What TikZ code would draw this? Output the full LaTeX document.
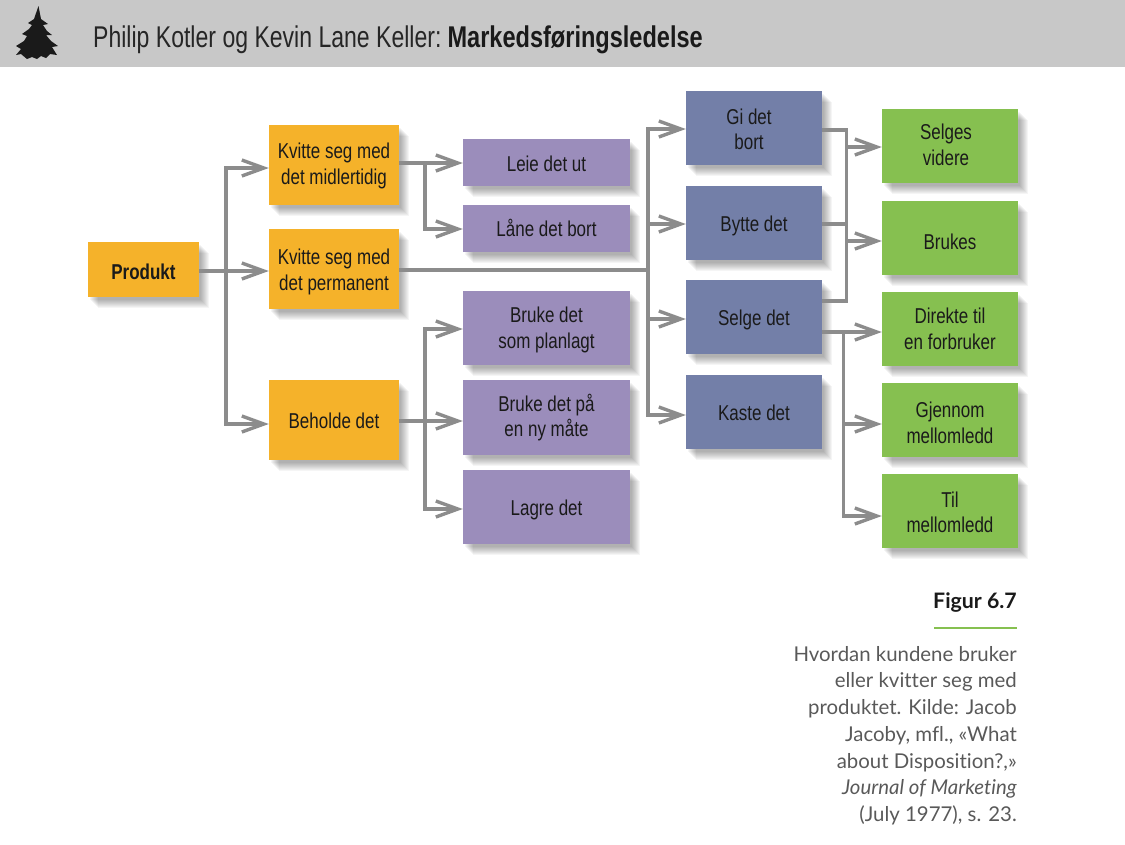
\documentclass[tikz,border=0pt]{standalone}
\usepackage{fontspec}
\setmainfont{Liberation Sans}[FakeStretch=0.79]
\newfontfamily\titlefont{Liberation Sans}[FakeStretch=0.768, BoldFeatures={FakeStretch=0.785}]
\newfontfamily\capfont{Lato}[Ligatures=NoCommon]
\usetikzlibrary{arrows.meta,shadows}
\definecolor{barcol}{HTML}{C8C8C8}
\definecolor{linkcol}{HTML}{8C8C8C}
\definecolor{orangecol}{HTML}{F5B22A}
\definecolor{purplecol}{HTML}{9B8DBB}
\definecolor{bluecol}{HTML}{737FA8}
\definecolor{greencol}{HTML}{86C050}
\definecolor{inkcol}{HTML}{1A1A1A}
\newcommand{\lowline}[2]{\raisebox{-#1pt}[\height][\depth]{#2}}
\begin{document}
\begin{tikzpicture}[x=1pt, y=-1pt,
    drop/.store in=\boxdrop, drop=18,
    softshadow/.style ={general shadow={shadow xshift=#1pt, shadow yshift=-#1pt-1pt, fill=black, opacity=.04}},
    box/.style ={softshadow=10, softshadow=9, softshadow=8, softshadow=7, softshadow=6, softshadow=5, softshadow=4, softshadow=3, softshadow=2,
      inner sep=0pt, align=center, text=inkcol, font=\fontsize{21.5}{25.5}\selectfont,
      execute at begin node={\rule{0pt}{\boxdrop pt}}},
    orangebox/.style ={box, fill=orangecol, minimum width=130pt, minimum height=80pt},
    purplebox/.style ={box, fill=purplecol, minimum width=167pt, minimum height=74.5pt},
    bluebox/.style ={box, fill=bluecol, minimum width=136pt, minimum height=74.5pt},
    greenbox/.style ={box, fill=greencol, minimum width=136pt, minimum height=74.5pt},
    link/.style ={line width=3.2pt, draw=linkcol},
    arrow/.style ={link, -{Straight Barb[length=22pt, width=16pt, line width=3.4pt]}}]
   \useasboundingbox (0,0) rectangle (1125,844);
   % header
   \fill[barcol] (0,0) rectangle (1125,66.5);
   \fill[inkcol] (38.5,6) -- (41,19) -- (48,24) -- (43,25) -- (47,31) -- (52,35) -- (46,35)
      -- (51,41) -- (58,46) -- (52,47) -- (57,55) -- (50,54) -- (46,58) -- (41,56) -- (37,59)
      -- (32,57) -- (27,59) -- (21,54) -- (16,55) -- (21,49) -- (16,46) -- (24,41) -- (27,36)
      -- (22,34) -- (29,29) -- (32,25) -- (28,23) -- (34,19) -- cycle;
   \node[anchor=west, inner sep=0pt, text=black!85, font=\titlefont\fontsize{30}{32}\selectfont] (title) at (93,40)
      {Philip Kotler og Kevin Lane Keller:\hspace{6pt}\textcolor{inkcol}{\textbf{Markedsføringsledelse}}};
   % boxes
   \node[orangebox, drop=20, minimum width=111pt, minimum height=55pt, font=\fontsize{21.5}{25.5}\selectfont\bfseries] (produkt) at (143.5,269.5) {Produkt};
   \node[orangebox] (kvmid)  at (334,165)   {\lowline{1}{Kvitte seg med}\\\lowline{1}{det midlertidig}};
   \node[orangebox] (kvperm) at (334,268.5) {\lowline{3.5}{Kvitte seg med}\\\lowline{3.5}{det permanent}};
   \node[orangebox] (beholde) at (334,420)  {Beholde det};
   \node[purplebox, minimum height=47pt] (leie) at (546.5,162.5) {Leie det ut};
   \node[purplebox, minimum height=47pt] (laane) at (546.5,228)  {Låne det bort};
   \node[purplebox] (planlagt) at (546.5,328) {\lowline{2}{Bruke det}\\\lowline{2}{som planlagt}};
   \node[purplebox] (nymaate)  at (546.5,417.5) {Bruke det på\\en ny måte};
   \node[purplebox, drop=22] (lagre)    at (546.5,507) {Lagre det};
   \node[bluebox] (gi)    at (754,128)   {\lowline{1.5}{Gi det}\hspace*{10pt}\\\lowline{1.5}{bort}\hspace*{10pt}};
   \node[bluebox, drop=21.5] (bytte) at (754,223)   {Bytte det};
   \node[bluebox, drop=21.5] (selge) at (754,317)   {Selge det};
   \node[bluebox] (kaste) at (754,412)   {Kaste det};
   \node[greenbox] (selges)  at (950,146)   {\lowline{-1}{Selges}\hspace*{8pt}\\\lowline{-1}{videre}\hspace*{8pt}};
   \node[greenbox, drop=22.5] (brukes)  at (950,238)   {Brukes};
   \node[greenbox] (direkte) at (950,329)   {Direkte til\\en forbruker};
   \node[greenbox] (gjennom) at (950,420)   {\lowline{3}{Gjennom}\\\lowline{3}{mellomledd}};
   \node[greenbox] (til)     at (950,511)   {\lowline{1.5}{Til}\\\lowline{1.5}{mellomledd}};
   % branch points
   \coordinate (forkA) at (226,271);
   \coordinate (forkB) at (425,163);
   \coordinate (forkC) at (425,421);
   \coordinate (forkD) at (648,270);
   \coordinate (forkE) at (846.5,224);
   \coordinate (forkF) at (843.5,332);
   % connectors
   \draw[link] (produkt.east |- forkA) -- (forkA);
   \draw[arrow] (forkA) |- ([yshift=-3pt]kvmid.west);
   \draw[arrow] (forkA) -- (kvperm.west |- forkA);
   \draw[arrow] (forkA) |- ([yshift=-4pt]beholde.west);
   \draw[arrow] (kvmid.east |- forkB) -- (leie.west |- forkB);
   \draw[arrow] (forkB) |- ([yshift=-1pt]laane.west);
   \draw[arrow] (beholde.east |- forkC) -- (nymaate.west |- forkC);
   \draw[arrow] (forkC) |- ([yshift=-1pt]planlagt.west);
   \draw[arrow] (forkC) |- ([yshift=-2pt]lagre.west);
   \draw[link] (kvperm.east |- forkD) -- (forkD);
   \draw[arrow] (forkD) |- ([yshift=-1pt]gi.west);
   \draw[arrow] (forkD) |- ([yshift=-1pt]bytte.west);
   \draw[arrow] (forkD) |- ([yshift=-2pt]selge.west);
   \draw[arrow] (forkD) |- ([yshift=-3pt]kaste.west);
   \draw[link] ([yshift=-2pt]gi.east) -| (forkE);
   \draw[link] (bytte.east |- forkE) -- (forkE);
   \draw[link] ([yshift=16pt]selge.east) -| (forkE);
   \draw[arrow] ([yshift=-1pt]selges.west -| forkE) -- ([yshift=-1pt]selges.west);
   \draw[arrow] ([yshift=-3pt]brukes.west -| forkE) -- ([yshift=-3pt]brukes.west);
   \draw[arrow] (selge.east |- forkF) -- (direkte.west |- forkF);
   \draw[arrow] (forkF) |- ([yshift=-4pt]gjennom.west);
   \draw[arrow] (forkF) |- ([yshift=-5pt]til.west);
   % caption
   \node[anchor=east, inner sep=0pt, text=inkcol, font=\capfont\fontsize{21.3}{24}\selectfont\bfseries] (figno) at (1017,603) {Figur 6.7};
   \coordinate (ruleL) at (934,628);
   \coordinate (ruleR) at (1017,628);
   \draw[greencol, line width=2pt] (ruleL) -- (ruleR);
   \node[anchor=north east, inner sep=0pt, align=right, text=black!65, font=\capfont\fontsize{20.4}{26.7}\selectfont] (caption) at (1017,646)
      {Hvordan kundene bruker\\eller kvitter seg med\\produktet. Kilde: Jacob\\Jacoby, mfl., «What\\about Disposition?,»\\\textit{Journal of Marketing}\\(July 1977), s. 23.};
 \end{tikzpicture}
\end{document}
